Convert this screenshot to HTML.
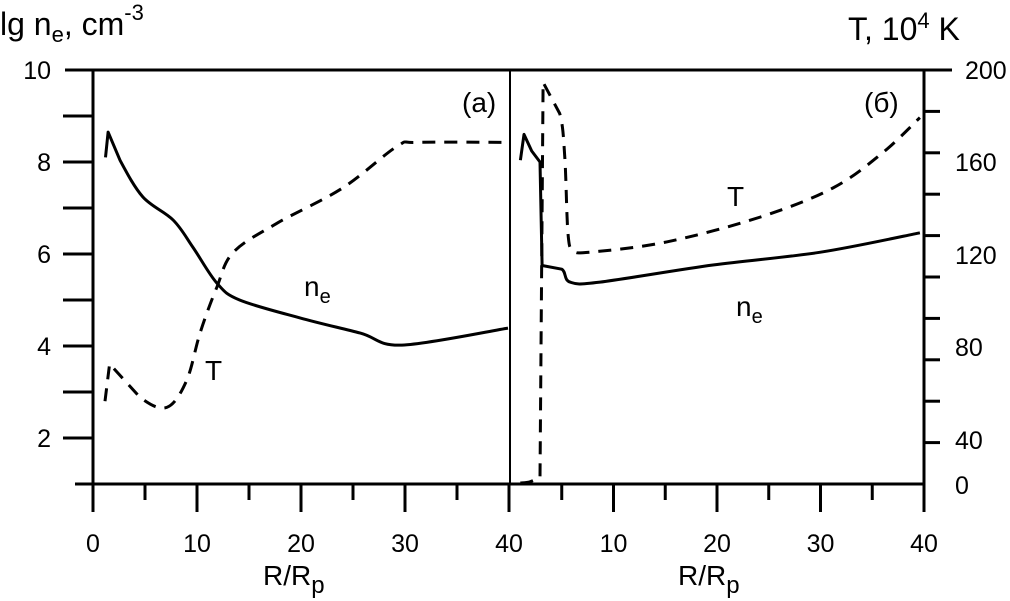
<!DOCTYPE html>
<html><head><meta charset="utf-8">
<style>
html,body{margin:0;padding:0;background:#fff;}
svg{display:block;font-family:"Liberation Sans",Arial,sans-serif;}
</style></head>
<body>
<svg id="chart" width="1010" height="601" viewBox="0 0 1010 601" xmlns="http://www.w3.org/2000/svg">
<g id="axes"></g>
<g id="series"></g>
<g id="labels" fill="#000">
  <text x="0" y="35" font-size="32">lg n<tspan font-size="22" dy="7">e</tspan><tspan dy="-7">, cm</tspan><tspan font-size="22" dy="-15">-3</tspan></text>
  <text x="848" y="40" font-size="32">T, 10<tspan font-size="22" dy="-12">4</tspan><tspan dy="12"> K</tspan></text>
  <text x="462" y="112" font-size="28">(a)</text>
  <text x="864" y="112" font-size="28">(б)</text>
  <text x="304" y="296" font-size="28">n<tspan font-size="20" dy="7">e</tspan></text>
  <text x="205" y="380" font-size="28">T</text>
  <text x="727" y="206" font-size="28">T</text>
  <text x="736" y="316" font-size="28">n<tspan font-size="20" dy="7">e</tspan></text>
  <text x="263" y="585" font-size="28">R/R<tspan font-size="24" dy="8">p</tspan></text>
  <text x="678" y="585" font-size="28">R/R<tspan font-size="24" dy="8">p</tspan></text>
</g>
</svg>
<script>
// Panel (a) data
const neA_R = [1.2,1.45,2.6,4.8,7.7,9.6,11.9,14.1,19.9,25.7,29.7,39.9];
const neA_V = [8.1,8.65,8.04,7.24,6.74,6.15,5.37,5.0,4.61,4.28,4.02,4.39];
const TA_R = [1.15,1.6,4.5,7.1,9.0,10.3,11.9,13.5,17.7,24,29.2,31.2,39.9];
const TA_V = [40,58,42,37,50,73,95,112,126,143,163,165,165];
// Panel (б) data
const neB_R = [1.0,1.35,2.1,2.9,3.1,5.0,5.8,8.7,19.6,30,39.6];
const neB_V = [8.04,8.6,8.24,8.0,5.75,5.67,5.39,5.39,5.76,6.04,6.46];
const TB_R = [1.0,1.9,2.9,3.2,4.8,5.3,5.6,6.1,7.7,15.2,24.2,31.2,36,39.6];
const TB_V = [0.5,1,3,194,179,157,121,113,112,117,129,143,160,177];
// Tick labels
const leftTicks = ["10","8","6","4","2"];
const leftTickVals = [10,8,6,4,2];
const rightTickLabels = ["200","160","120","80","40","0"];
const xTickLabels = ["0","10","20","30","40"];

const NS="http://www.w3.org/2000/svg";
const ax=document.getElementById('axes'), se=document.getElementById('series'), lb=document.getElementById('labels');
const TOP=70, BOT=484;
const xA=r=>93+r*(509-93)/40;
const xB=r=>510+r*(924-510)/40;
const yL=v=>BOT-(v-1)*(BOT-TOP)/9;
const yT=t=>BOT-t*(BOT-TOP)/200;
function el(tag,attrs,parent){const e=document.createElementNS(NS,tag);for(const k in attrs)e.setAttribute(k,attrs[k]);parent.appendChild(e);return e;}
function line(x1,y1,x2,y2,w,name){const e=el('line',{x1,y1,x2,y2,stroke:'#000','stroke-width':w},ax);

return e;}
function txt(x,y,s,anchor,name){const e=el('text',{x,y,'text-anchor':anchor,'font-size':25},lb);e.textContent=s;

}

line(65,TOP,952,TOP,3,'top-border');
line(75,BOT,924,BOT,3,'x-axis');
line(93,TOP,93,BOT,3,'left-axis');
line(924,TOP,924,BOT,3,'right-axis');
line(510,TOP,510,BOT,2,'panel-divider');
for(let v=2;v<=9;v++) line(63,yL(v),93,yL(v),3,'left-tick');
for(let t=20;t<200;t+=20) line(924,yT(t),940,yT(t),3,'right-tick');
for(let r=0;r<=40;r+=5){
  const maj=r%10===0;
  line(xA(r),BOT,xA(r),maj?512:500,3,'x-tick-a');
  if(r>0) line(xB(r),BOT,xB(r),maj?512:500,3,'x-tick-b');
}
leftTicks.forEach((s,i)=>txt(51,yL(leftTickVals[i])+9,s,'end','left-tick-label'));
const rightYs=[79,171,264,356,449,494];
const rightXs=[965,955,955,955,955,955];
rightTickLabels.forEach((s,i)=>txt(rightXs[i],rightYs[i],s,'start','right-tick-label'));
xTickLabels.forEach((s,i)=>txt(xA(i*10),552,s,'middle','x-tick-label-a'));
xTickLabels.slice(1).forEach((s,i)=>txt(xB((i+1)*10),552,s,'middle','x-tick-label-b'));

function path(R,V,fx,fy,dashed,name,sharp){
  const P=R.map((r,i)=>[fx(r),fy(V[i])]);
  let d='M'+P[0][0].toFixed(1)+','+P[0][1].toFixed(1);
  for(let i=0;i<P.length-1;i++){
    const p0=P[Math.max(i-1,0)],p1=P[i],p2=P[i+1],p3=P[Math.min(i+2,P.length-1)];
    const t=(sharp&&(sharp.includes(i)||sharp.includes(i+1)))?0:1/6;
    const c1=[p1[0]+(p2[0]-p0[0])*t,p1[1]+(p2[1]-p0[1])*t];
    const c2=[p2[0]-(p3[0]-p1[0])*t,p2[1]-(p3[1]-p1[1])*t];
    d+='C'+c1[0].toFixed(1)+','+c1[1].toFixed(1)+' '+c2[0].toFixed(1)+','+c2[1].toFixed(1)+' '+p2[0].toFixed(1)+','+p2[1].toFixed(1);
  }
  const p=el('path',{d,fill:'none',stroke:'#000','stroke-width':3,'stroke-linejoin':'round'},se);
  if(dashed)p.setAttribute('stroke-dasharray','13,9');
  
  
}
path(neA_R,neA_V,xA,yL,false,'ne-line-a',[1]);
path(TA_R,TA_V,xA,yT,true,'t-line-a',[1]);
path(neB_R,neB_V,xB,yL,false,'ne-line-b',[1,3,4]);
path(TB_R,TB_V,xB,yT,true,'t-line-b',[2,3]);
</script>
</body></html>
